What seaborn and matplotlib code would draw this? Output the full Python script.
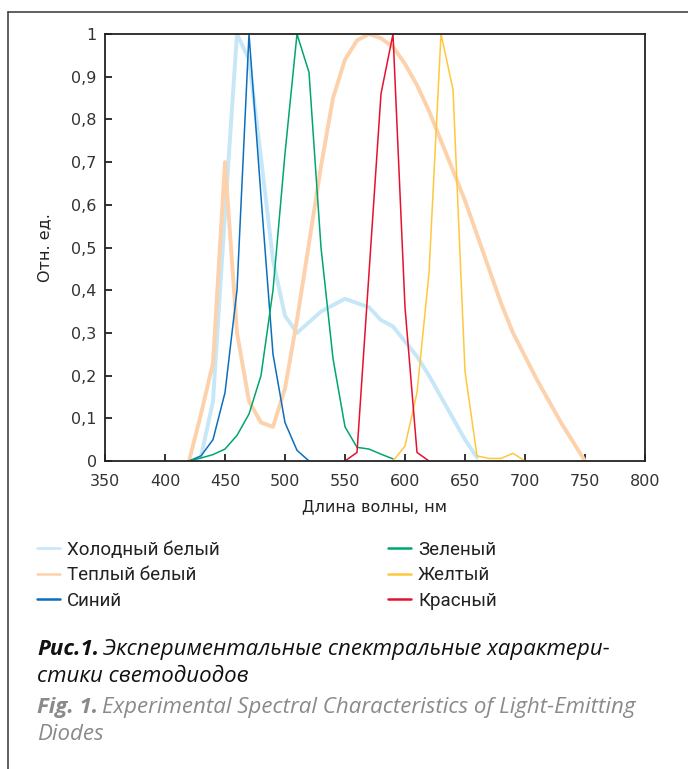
import numpy as np
import pandas as pd
import matplotlib
matplotlib.use("Agg")
import matplotlib.pyplot as plt
import seaborn as sns
from matplotlib.lines import Line2D

# Spectra (wavelength, nm -> relative units)
cold_wl = [430, 440, 450, 460, 470, 480, 490, 500, 510, 520, 530, 540, 550,
           560, 570, 580, 590, 600, 610, 620, 630, 640, 650, 660]
cold_val = [0.01, 0.14, 0.58, 1.0, 0.94, 0.71, 0.47, 0.34, 0.30, 0.325, 0.35, 0.365, 0.38,
            0.37, 0.36, 0.33, 0.315, 0.28, 0.245, 0.20, 0.15, 0.10, 0.05, 0.008]

warm_wl = [420, 430, 440, 450, 460, 470, 480, 490, 500, 510, 520, 530, 540, 550,
           560, 570, 580, 590, 600, 610, 620, 630, 640, 650, 660, 670, 680, 690,
           700, 710, 720, 730, 740, 750]
warm_val = [0.0, 0.11, 0.23, 0.70, 0.30, 0.14, 0.09, 0.08, 0.17, 0.33, 0.51, 0.69, 0.85, 0.94,
            0.985, 1.0, 0.99, 0.97, 0.93, 0.88, 0.82, 0.75, 0.68, 0.61, 0.53, 0.45, 0.37, 0.30,
            0.245, 0.19, 0.14, 0.09, 0.045, 0.0]

blue_wl = [420, 430, 440, 450, 460, 470, 480, 490, 500, 510, 520]
blue_val = [0.0, 0.012, 0.05, 0.16, 0.40, 1.0, 0.62, 0.25, 0.09, 0.025, 0.0]

green_wl = [420, 430, 440, 450, 460, 470, 480, 490, 500, 510, 520, 530, 540, 550, 560, 570, 580, 590]
green_val = [0.0, 0.007, 0.015, 0.028, 0.06, 0.11, 0.20, 0.40, 0.72, 1.0, 0.91, 0.50, 0.24,
             0.08, 0.032, 0.028, 0.016, 0.005]

yellow_wl = [590, 600, 610, 620, 630, 640, 650, 660, 670, 680, 690, 700]
yellow_val = [0.0, 0.035, 0.16, 0.44, 1.0, 0.87, 0.21, 0.012, 0.006, 0.006, 0.018, 0.0]

red_wl = [550, 560, 570, 580, 590, 600, 610, 620]
red_val = [0.0, 0.02, 0.44, 0.86, 1.0, 0.36, 0.02, 0.0]

x_ticks = [350, 400, 450, 500, 550, 600, 650, 700, 750, 800]
y_ticks = [0, 0.1, 0.2, 0.3, 0.4, 0.5, 0.6, 0.7, 0.8, 0.9, 1.0]
y_tick_labels = ["0", "0,1", "0,2", "0,3", "0,4", "0,5", "0,6", "0,7", "0,8", "0,9", "1"]

series = [
    ("Холодный белый", cold_wl, cold_val, "#c6e7f7", 2.8),
    ("Теплый белый", warm_wl, warm_val, "#fdd1ab", 2.8),
    ("Синий", blue_wl, blue_val, "#0b6fbf", 1.1),
    ("Зеленый", green_wl, green_val, "#00a56f", 1.1),
    ("Желтый", yellow_wl, yellow_val, "#ffc73d", 1.1),
    ("Красный", red_wl, red_val, "#e5112f", 1.1),
]

sns.set_theme(style="ticks")
plt.rcParams["font.family"] = ["DejaVu Sans"]
cap_font = ["Open Sans", "Roboto", "DejaVu Sans"]
leg_font = ["Roboto", "DejaVu Sans"]

fig = plt.figure(figsize=(6.88, 7.69), dpi=100)
ax = fig.add_axes([105 / 688, 1 - 461 / 769, 540 / 688, 427 / 769])

for name, wl, val, col, lw in series:
    df = pd.DataFrame({"wl": wl, "val": val})
    sns.lineplot(data=df, x="wl", y="val", color=col, lw=lw, ax=ax, sort=False)

ax.set_xlim(350, 800)
ax.set_ylim(0, 1)
ax.set_xticks(x_ticks)
ax.set_xticklabels([str(t) for t in x_ticks])
ax.set_yticks(y_ticks)
ax.set_yticklabels(y_tick_labels)
ax.tick_params(direction="in", length=5, width=1.3, labelsize=11.5, colors="#222222",
               labelcolor="#333333", pad=6)
ax.tick_params(axis="x", pad=9)
for s in ax.spines.values():
    s.set_visible(True)
    s.set_color("#222222")
    s.set_linewidth(1.3)
ax.set_xlabel("Длина волны, нм", fontsize=11.5, color="#222222", labelpad=8)
ax.set_ylabel("Отн. ед.", fontsize=11.5, color="#222222", labelpad=14)

# legend, two columns placed separately
handles = [Line2D([], [], color=col, lw=1.8) for _, _, _, col, _ in series]
names = [s[0] for s in series]
leg_kw = dict(frameon=False, handlelength=1.23, handletextpad=0.37, labelspacing=0.39,
              prop={"family": leg_font, "size": 13.5}, borderaxespad=0, borderpad=0)
leg1 = fig.legend(handles[:3], names[:3], loc="upper left",
                  bbox_to_anchor=(37 / 688, 1 - 541 / 769), **leg_kw)
leg2 = fig.legend(handles[3:], names[3:], loc="upper left",
                  bbox_to_anchor=(388 / 688, 1 - 541 / 769), **leg_kw)
for t in leg1.get_texts() + leg2.get_texts():
    t.set_color("#222222")

# outer frame (top and left only, as in the page layout)
fig.add_artist(Line2D([8 / 688, 1], [1 - 12 / 769, 1 - 12 / 769], color="#444444", lw=1.2,
                      transform=fig.transFigure))
fig.add_artist(Line2D([8 / 688, 8 / 688], [0, 1 - 12 / 769], color="#444444", lw=1.2,
                      transform=fig.transFigure))

# caption with bold prefix
renderer = fig.canvas.get_renderer()


def caption_line(x_px, y_px, bold, rest, color):
    y = 1 - y_px / 769
    x = x_px / 688
    if bold:
        t = fig.text(x, y, bold, fontsize=16, style="italic", weight="bold",
                     family=cap_font, color=color, va="baseline")
        bb = t.get_window_extent(renderer)
        x = bb.x1 / fig.bbox.width + 4 / 688
    fig.text(x, y, rest, fontsize=16, style="italic", family=cap_font,
             color=color, va="baseline")


caption_line(37, 655, "Рис.1.", "Экспериментальные спектральные характери-", "#111111")
caption_line(37, 682, "", "стики светодиодов", "#111111")
caption_line(37, 713, "Fig. 1.", "Experimental Spectral Characteristics of Light-Emitting", "#8a8a8a")
caption_line(37, 740, "", "Diodes", "#8a8a8a")

fig.savefig("out.png", dpi=100)
